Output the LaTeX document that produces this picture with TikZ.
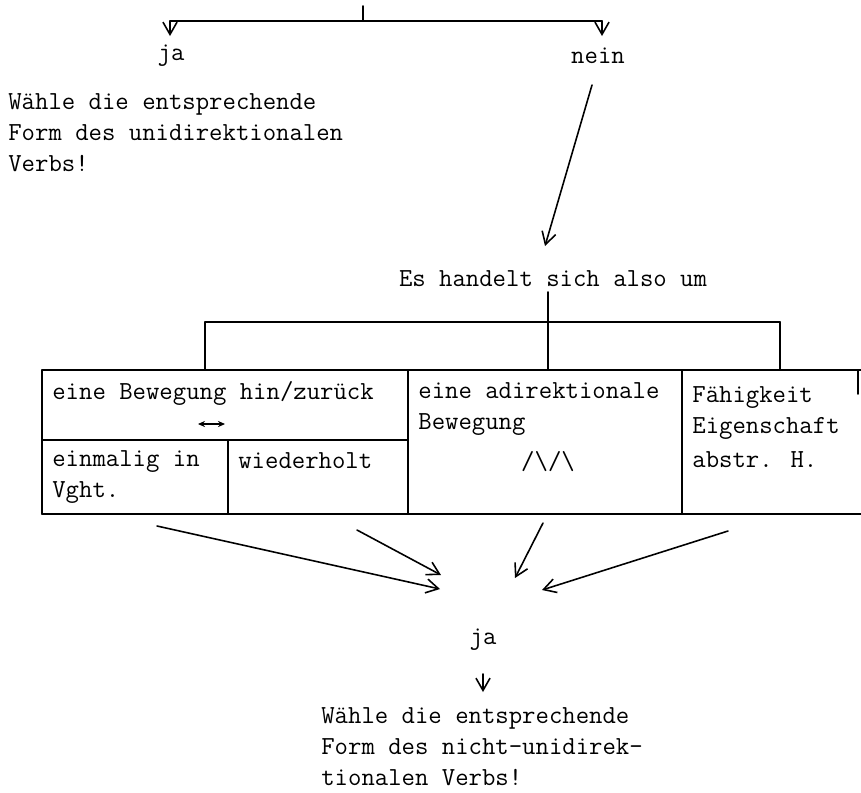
\documentclass[tikz,border=0pt]{standalone}
\usepackage{tikz}
\usetikzlibrary{arrows.meta}
\tikzset{
  every picture/.style={line join=round, line cap=round, >={Straight Barb[length=7pt,width=8pt]}},
  txt/.style={inner sep=0pt, font=\ttfamily\fontsize{14.8}{17.6}\selectfont, align=left},
  rule/.style={line width=0.9pt},
  link/.style={line width=0.9pt, ->},
}
\begin{document}
\begin{tikzpicture}[x=0.02cm, y=-0.02cm]
\useasboundingbox (0,0) rectangle (861,792);
% oberer Teil
\coordinate (top) at (363,6);
\coordinate (barL) at (170,21);
\coordinate (barR) at (602,21);
\draw[rule] (top) -- (363,21);
\draw[rule] (barL) -- (barR);
\node[txt] (ja1) at (171,56) {ja};
\node[txt] (nein) at (598,56) {nein};
\draw[link] (barL) -- (170,36);
\draw[link] (barR) -- (602,36);
\node[txt, anchor=west] (wahl1) at (8,133) {Wähle die entsprechende\\Form des unidirektionalen\\Verbs!};
% nein -> Es handelt sich also um
\node[txt] (handelt) at (553,279) {Es handelt sich also um};
\coordinate (neinS) at (592,85);
\draw[link] (neinS) -- (545,246);
% Verzweigung
\coordinate (fork) at (548,322);
\draw[rule] (548,292) -- (fork);
\draw[rule] (205,322) -- (780,322);
\foreach \x in {205,548,780} {\draw[rule] (\x,322) -- (\x,370);}
% Tabelle
\draw[rule] (42,370) -- (861,370);
\draw[rule] (42,514) -- (861,514);
\draw[rule] (42,370) -- (42,514);
\draw[rule] (408,370) -- (408,514);
\draw[rule] (682,370) -- (682,514);
\draw[rule] (858,370) -- (858,394);
\draw[rule] (42,440) -- (408,440);
\draw[rule] (228,440) -- (228,514);
\node[txt, anchor=west] (hin) at (52,393) {eine Bewegung hin/zurück};
\draw[line width=0.8pt, {Stealth[length=4pt,width=3.5pt]}-{Stealth[length=4pt,width=3.5pt]}] (198,424) -- (225,424);
\node[txt, anchor=west] (einmal) at (52,477) {einmalig in\\Vght.};
\node[txt, anchor=west] (wieder) at (238,461) {wiederholt};
\node[txt, anchor=west] (adir) at (418,409) {eine adirektionale\\Bewegung};
\node[txt] (zickzack) at (548,462) {/\textbackslash/\textbackslash};
\node[txt, anchor=west] (faehig) at (692,427) {Fähigkeit\\Eigenschaft\\[2pt]abstr. H.};
% untere Pfeile
\coordinate (a1) at (157,526);
\coordinate (a2) at (357,530);
\coordinate (a3) at (543,523);
\coordinate (a4) at (728,531);
\node[txt] (ja2) at (483,640) {ja};
\draw[link] (a1) -- (440,589);
\draw[link] (a2) -- (441,575);
\draw[link] (a3) -- (515,578);
\draw[link] (a4) -- (542,590);
\draw[link] (483,674) -- (483,692);
\node[txt, anchor=west] (wahl2) at (321,747) {Wähle die entsprechende\\Form des nicht-unidirek-\\tionalen Verbs!};
\end{tikzpicture}
\end{document}
